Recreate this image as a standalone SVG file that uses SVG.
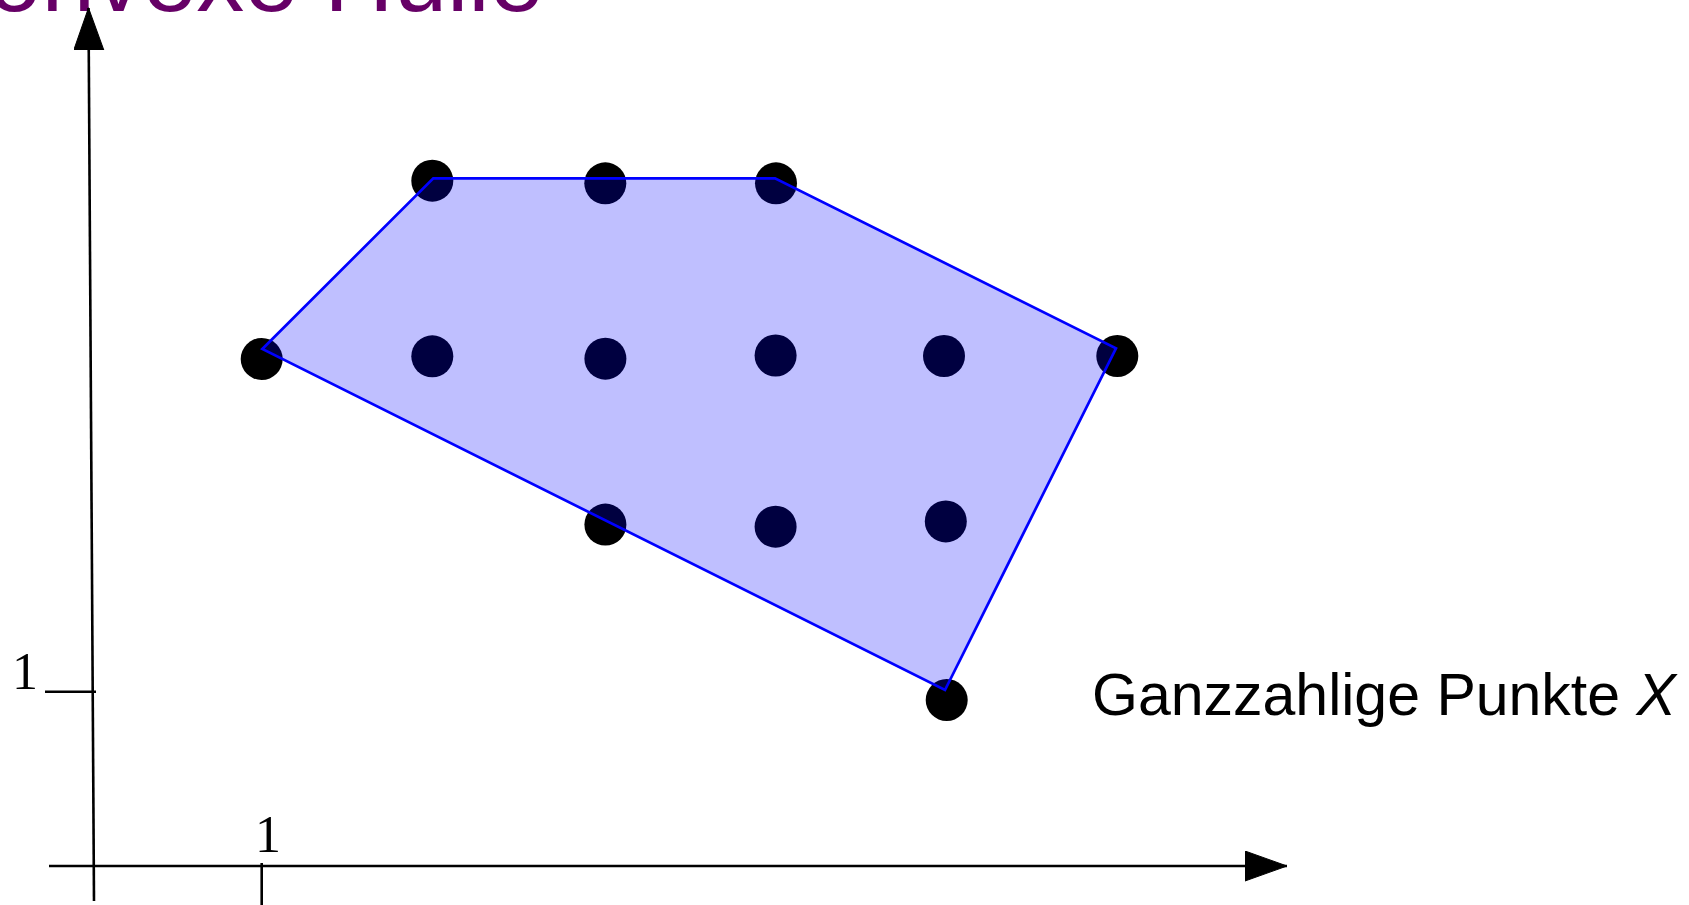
<svg xmlns="http://www.w3.org/2000/svg" width="1689" height="905" viewBox="0 0 1689 905">
  <style>
    .axis { stroke: #000; stroke-width: 2.6; fill: none; }
    .dot { fill: #000; }
    .hull { fill: #0000ff; fill-opacity: 0.25; stroke: #0000ff; stroke-width: 2.7; stroke-linejoin: miter; }
    .title { font-family: "Liberation Sans", Arial, sans-serif; font-size: 96px; fill: #660066; }
    .label { font-family: "Liberation Sans", Arial, sans-serif; font-size: 59px; fill: #000; }
    .num { font-family: "Liberation Serif", "Times New Roman", serif; font-size: 52px; fill: #000; text-anchor: middle; }
  </style>
  <defs>
    <marker id="arrow" markerUnits="userSpaceOnUse" markerWidth="44" markerHeight="32" refX="42" refY="15" orient="auto">
      <path d="M0,0 L42,15 L0,30 Z" fill="#000" stroke="#000" stroke-width="1" stroke-linejoin="round"/>
    </marker>
  </defs>
  <rect x="0" y="0" width="1689" height="905" fill="#fff"/>

  <g id="title">
    <text class="title" x="-76" y="11">Konvexe Hülle</text>
  </g>

  <g id="axes">
    <line class="axis" x1="49" y1="866" x2="1287" y2="866" marker-end="url(#arrow)"/>
    <line class="axis" x1="94" y1="901" x2="88.5" y2="8" marker-end="url(#arrow)"/>
    <line class="axis" x1="261.7" y1="863" x2="261.7" y2="905"/>
    <line class="axis" x1="45" y1="691.7" x2="96" y2="691.7"/>
    <text class="num" x="268" y="852">1</text>
    <text class="num" x="25" y="689">1</text>
  </g>

  <g id="points">
    <circle id="p1" class="dot" cx="432.3" cy="180.7" r="21"/>
    <circle id="p2" class="dot" cx="605.3" cy="183.3" r="21"/>
    <circle id="p3" class="dot" cx="776" cy="183.3" r="21"/>
    <circle id="p4" class="dot" cx="261.7" cy="359" r="21"/>
    <circle id="p5" class="dot" cx="432.3" cy="356.3" r="21"/>
    <circle id="p6" class="dot" cx="605.4" cy="358.7" r="21"/>
    <circle id="p7" class="dot" cx="775.6" cy="355.5" r="21"/>
    <circle id="p8" class="dot" cx="944" cy="356" r="21"/>
    <circle id="p9" class="dot" cx="1117.3" cy="356" r="21"/>
    <circle id="p10" class="dot" cx="605.4" cy="524.6" r="21"/>
    <circle id="p11" class="dot" cx="775.6" cy="526.7" r="21"/>
    <circle id="p12" class="dot" cx="945.8" cy="521.4" r="21"/>
    <circle id="p13" class="dot" cx="946.7" cy="700" r="21"/>
  </g>

  <g id="hull">
    <polygon class="hull" points="262.3,349 433.3,178.3 775,178.3 1116,348.3 945,690"/>
  </g>

  <g id="legend">
    <text class="label" x="1092" y="715">Ganzzahlige Punkte <tspan font-style="italic">X</tspan></text>
  </g>
</svg>
